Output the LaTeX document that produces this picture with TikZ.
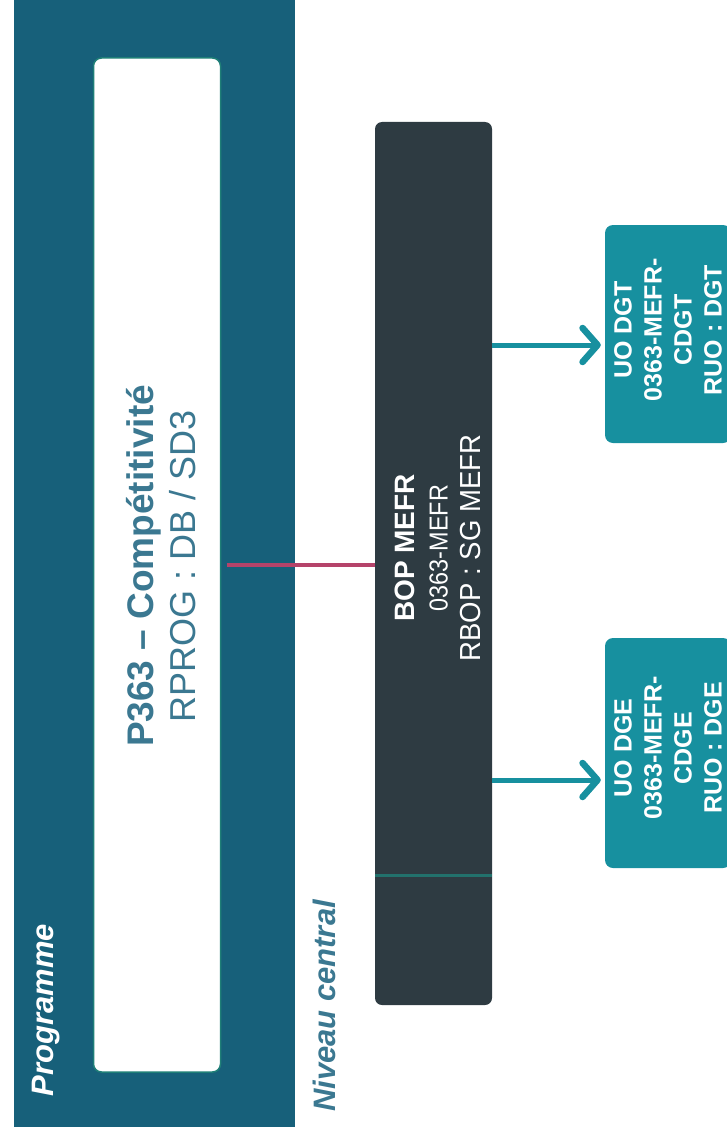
\documentclass[tikz,border=0pt]{standalone}
\usepackage{fontspec}
\setmainfont{Liberation Sans}
\usetikzlibrary{arrows.meta}

\definecolor{progfond}{HTML}{17607A}
\definecolor{progbord}{HTML}{1F7F77}
\definecolor{texteteal}{HTML}{3B7891}
\definecolor{bopfond}{HTML}{2E3B42}
\definecolor{uofond}{HTML}{17909F}
\definecolor{lienrouge}{HTML}{B5436A}

\tikzset{
  progbox/.style={rectangle, fill=progfond, inner sep=0pt},
  progin/.style={rectangle, rounded corners=8pt, fill=white, draw=progbord, line width=1.5pt, inner sep=0pt},
  bopbox/.style={rectangle, rounded corners=7pt, fill=bopfond, inner sep=0pt},
  uobox/.style={rectangle, rounded corners=8pt, fill=uofond, inner sep=0pt},
  titre/.style={text=texteteal, align=center, inner sep=0pt, font=\fontsize{36}{42}\selectfont},
  boptexte/.style={text=white, align=center, inner sep=0pt, font=\fontsize{26}{33}\selectfont},
  uotexte/.style={text=white, align=center, inner sep=0pt, font=\fontsize{25}{30}\selectfont\bfseries},
  etiquette/.style={inner sep=0pt, font=\fontsize{31}{36}\selectfont\bfseries\itshape},
  fleche/.style={draw=uofond, line width=5pt, -{Straight Barb[length=15pt, width=34pt, line width=6.5pt, round]}},
  lien/.style={draw=lienrouge, line width=4pt},
}

\begin{document}
\begin{tikzpicture}[x=1pt, y=-1pt]
    \useasboundingbox (0,0) rectangle (726,1137);

    % Programme
    \node[progbox, minimum width=281pt, minimum height=1137pt] (prog) at (154.5,558.5) {};
    \node[progin, minimum width=127pt, minimum height=1014pt] (progin) at (157,565) {};
    \node[titre, rotate=90] (p363) at (161,566)
        {{\fontsize{37}{42}\selectfont\bfseries P363 – Compétitivité}\\ RPROG : DB / SD3};
    \node[etiquette, text=white, rotate=90] (proglbl) at (46,1010) {Programme};
    \node[etiquette, text=texteteal, rotate=90] (niveau) at (324,1006) {Niveau central};

    % BOP
    \node[bopbox, minimum width=117pt, minimum height=883pt] (bop) at (433.5,563.5) {};
    \draw[draw=progbord!80!bopfond, line width=3pt]
        ([yshift=-311.5pt]bop.west) -- ([yshift=-311.5pt]bop.east);
    \node[boptexte, rotate=90] (boptxt) at (438,548)
        {{\fontsize{28}{33}\selectfont\bfseries BOP MEFR}\\
         \scalebox{0.9}[1]{0363-MEFR}\\
         {\fontsize{29}{33}\selectfont\scalebox{0.95}[1]{RBOP : SG MEFR}}};

    % UO
    \node[uobox, minimum width=126pt, minimum height=218pt] (dgt) at (668,334) {};
    \node[uotexte, rotate=90] (dgttxt) at (668,330) {UO DGT\\ 0363-MEFR-\\ CDGT\\ RUO : DGT};
    \node[uobox, minimum width=126pt, minimum height=230pt] (dge) at (668,753) {};
    \node[uotexte, rotate=90] (dgetxt) at (668,748) {UO DGE\\ 0363-MEFR-\\ CDGE\\ RUO : DGE};

    % Liens
    \draw[lien] ([xshift=6pt]progin.east) -- (progin.east -| bop.west);
    \draw[fleche, shorten >=4pt] ([yshift=-11pt]dgt.west -| bop.east) -- ([yshift=-11pt]dgt.west);
    \draw[fleche, shorten >=4pt] ([yshift=-27pt]dge.west -| bop.east) -- ([yshift=-27pt]dge.west);
\end{tikzpicture}
\end{document}
